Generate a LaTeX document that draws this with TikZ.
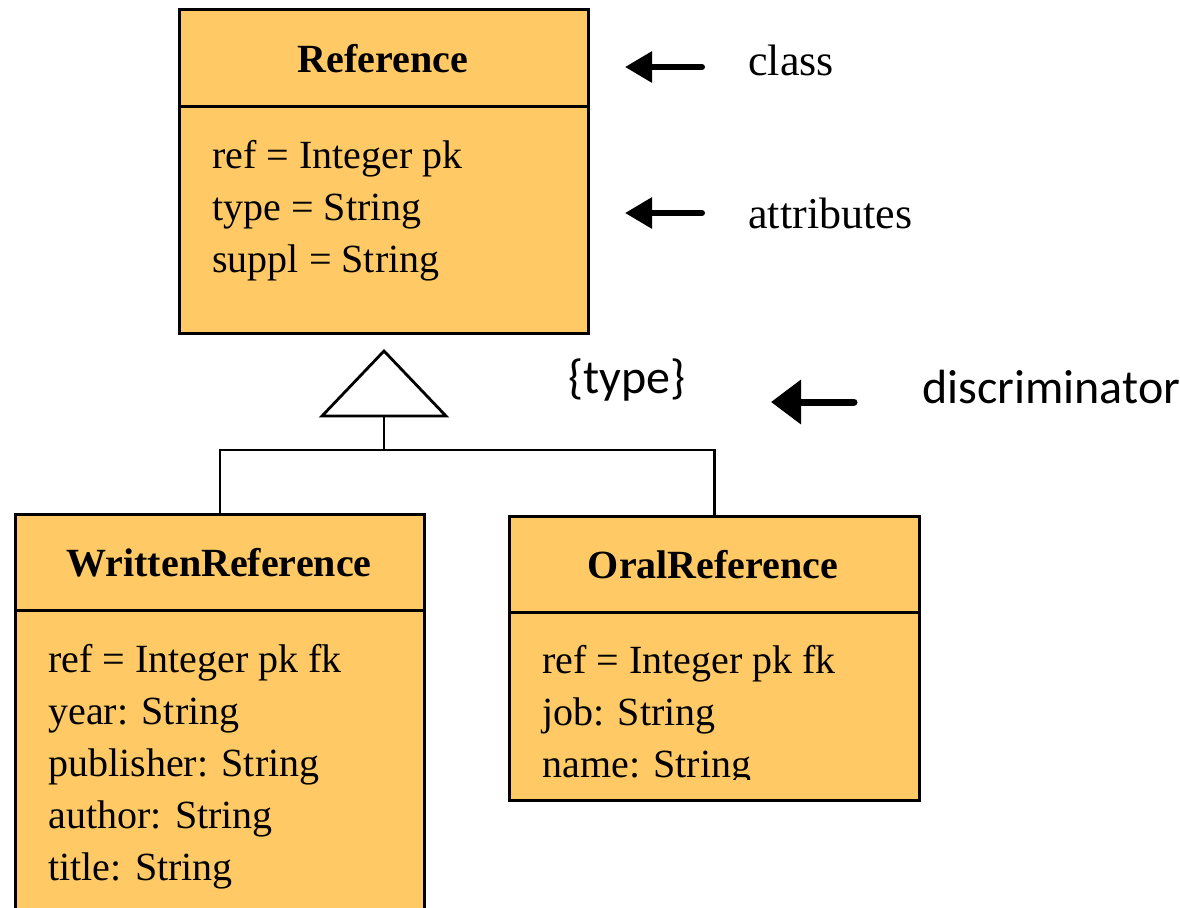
\documentclass[tikz,border=0pt]{standalone}
\usepackage{fontspec}
\setmainfont{Liberation Serif}
\newfontfamily\calibri{Carlito}
\usetikzlibrary{arrows.meta,positioning}
\definecolor{umlfill}{RGB}{255,202,102}

\begin{document}
\begin{tikzpicture}[x=0.5pt,y=-0.5pt,
    classbox/.style={draw,line width=1.5pt,fill=umlfill,anchor=north west,inner sep=0pt},
    title/.style={font=\fontsize{20}{24}\selectfont\bfseries,anchor=base,inner sep=0pt},
    attr/.style={font=\fontsize{20}{24}\selectfont,anchor=base west,inner sep=0pt},
    note/.style={font=\fontsize{22}{26}\selectfont,anchor=base west,inner sep=0pt},
    cnote/.style={font=\calibri\fontsize{24}{28}\selectfont,anchor=base west,inner sep=0pt},
    pointer/.style={line width=3pt,line cap=round,-{Triangle[length=13.5pt,width=15pt]}},
    gen/.style={line width=1.4pt}]% UML generalisation
  \useasboundingbox (0,0) rectangle (1180,907);
  % superclass
  \node (ref) at (178,8) [classbox,minimum width=204.5pt,minimum height=162pt] {};
  \draw [line width=1.5pt] ([yshift=-49pt]ref.north west) -- ([yshift=-49pt]ref.north east);
  \node (refname) at (383,72) [title] {Reference};
  \foreach \txt [count=\i] in {ref = Integer pk, type = String, suppl = String}
    \node (refattr\i) at (212,116+52*\i) [attr] {\txt};
  % subclasses
  \node (written) at (14,513) [classbox,minimum width=204.5pt,minimum height=208.5pt] {};
  \draw [line width=1.5pt] ([yshift=-48.5pt]written.north west) -- ([yshift=-48.5pt]written.north east);
  \node (writtenname) at (219,576) [title] {WrittenReference};
  \foreach \txt [count=\i] in {ref = Integer pk fk, year: String, publisher: String, author: String, title: String}
    \node (writtenattr\i) at (48,620+52*\i) [attr] {\txt};
  \node (oral) at (508,515) [classbox,minimum width=205pt,minimum height=142pt] {};
  \draw [line width=1.5pt] ([yshift=-48.5pt]oral.north west) -- ([yshift=-48.5pt]oral.north east);
  \node (oralname) at (713,578) [title] {OralReference};
  \begin{scope}
    \clip (508,612) rectangle (918,779);
    \foreach \txt [count=\i] in {ref = Integer pk fk, job: String, name: String}
      \node (oralattr\i) at (542,621+52*\i) [attr] {\txt};
  \end{scope}
  % generalisation
  \coordinate (apex) at ([yshift=-8pt]ref.south);
  \draw [gen] (apex) -- ++(62,65) -- ++(-124,0) -- cycle;
  \coordinate (base) at ([yshift=-32.5pt]apex);
  \coordinate (fork) at ([yshift=-17pt]base);
  \draw [gen] (base) -- (fork);
  \draw [gen] (written.north) |- (fork) -| (oral.north);
  \node (typelbl) at (568,393) [cnote] {\{type\}};
  % notes
  \node (classlbl) at (748,75) [note] {class};
  \node (attrlbl) at (748,228) [note] {attributes};
  \node (discrlbl) at (922,403) [cnote] {discriminator};
  \coordinate (classtail) at (702,67);
  \coordinate (classtip) at (625,67);
  \coordinate (attrtail) at (702,213);
  \coordinate (attrtip) at (625,213);
  \coordinate (discrtail) at (854,402);
  \coordinate (discrtip) at (771,402);
  \draw [pointer] (classtail) -- (classtip);
  \draw [pointer] (attrtail) -- (attrtip);
  \draw [pointer,line width=3.5pt,-{Triangle[length=15pt,width=21.5pt]}] (discrtail) -- (discrtip);
\end{tikzpicture}
\end{document}
